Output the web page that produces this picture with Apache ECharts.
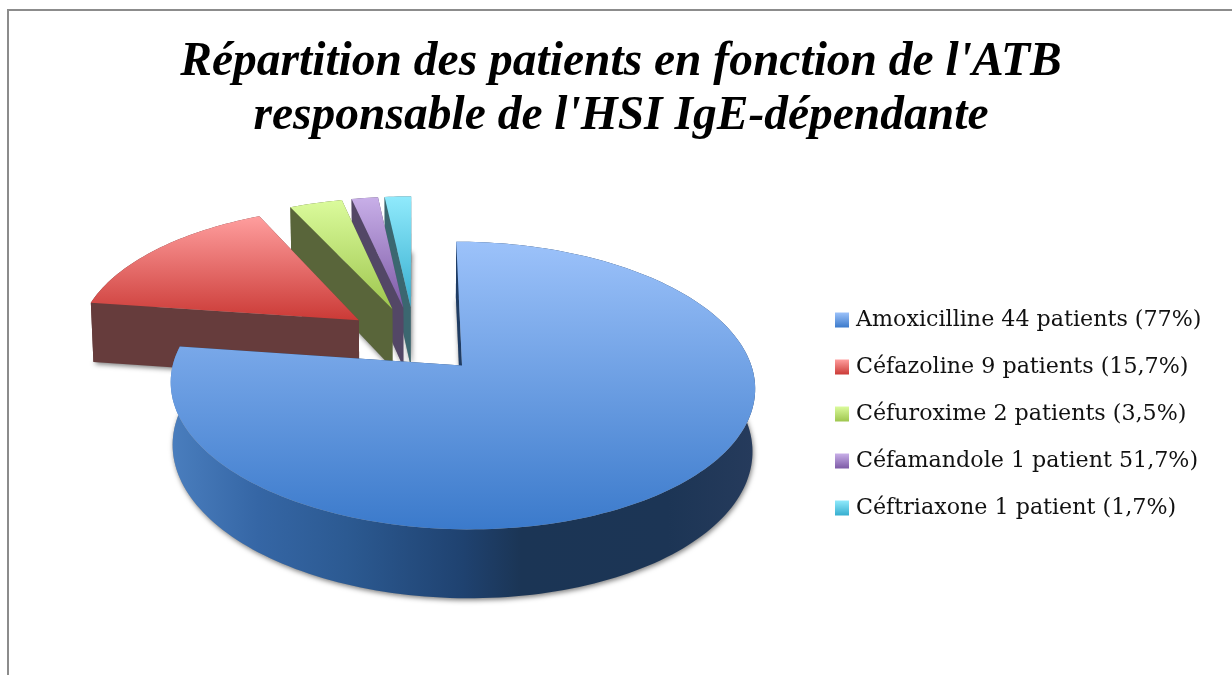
<!DOCTYPE html>
<html>
<head>
<meta charset="utf-8">
<title>Répartition des patients</title>
<style>
html, body { margin: 0; padding: 0; background: #fff; }
#chart { width: 1232px; height: 675px; }
</style>
<script src="https://cdn.jsdelivr.net/npm/echarts@6/dist/echarts.min.js"></script>
</head>
<body>
<div id="chart"></div>
<script>
var titleLines = ["Répartition des patients en fonction de l'ATB", "responsable de l'HSI IgE-dépendante"];
var categories = ['Amoxicilline', 'Céfazoline', 'Céfuroxime', 'Céfamandole', 'Céftriaxone'];
var patients = [44, 9, 2, 1, 1];
var legendLabels = [
    'Amoxicilline 44 patients (77%)',
    'Céfazoline 9 patients (15,7%)',
    'Céfuroxime 2 patients (3,5%)',
    'Céfamandole 1 patient 51,7%)',
    'Céftriaxone 1 patient (1,7%)'
];
var topColors = [['#9CC2FA', '#3B7ACB'], ['#FF9E9E', '#CB3A36'], ['#DBFB9C', '#9EC64E'], ['#C8AFE8', '#7D5AA6'], ['#90EAFC', '#36AECF']];
var sideColors = ['#1F3C63', '#663C3C', '#59653A', '#534766', '#3B6770'];

// perspective of the fake 3D pie
var cx = 414.5, cy = 339.7, rx = 282, ry = 134, k = 0.135, kDepth = 0.1, depth = 60.7, shrink = 0.008, explode = 0.25;

var total = patients.reduce(function (a, b) { return a + b; }, 0);

function project(x, y, z) {
    var w = 1 + k * y;
    return [cx + rx * x * (1 - shrink * z) / w, cy - ry * y / w + depth * z / (1 + kDepth * y)];
}

function sliceShapes(index) {
    var before = 0;
    for (var i = 0; i < index; i++) before += patients[i];
    var a0 = before / total * Math.PI * 2;
    var a1 = (before + patients[index]) / total * Math.PI * 2;
    var mid = (a0 + a1) / 2;
    var ax = explode * Math.sin(mid), ay = explode * Math.cos(mid);
    var steps = Math.max(6, Math.round((a1 - a0) * 40));
    var top = [project(ax, ay, 0)];
    var base = [project(ax, ay, 1)];
    var arcTop = [], arcBottom = [];
    for (var s = 0; s <= steps; s++) {
        var a = a0 + (a1 - a0) * s / steps;
        var x = ax + Math.sin(a), y = ay + Math.cos(a);
        top.push(project(x, y, 0));
        base.push(project(x, y, 1));
        arcTop.push(project(x, y, 0));
        arcBottom.unshift(project(x, y, 1));
    }
    var startX = ax + Math.sin(a0), startY = ay + Math.cos(a0);
    var endX = ax + Math.sin(a1), endY = ay + Math.cos(a1);
    var outerWall = arcTop.concat(arcBottom);
    var startWall = [project(ax, ay, 0), project(startX, startY, 0), project(startX, startY, 1), project(ax, ay, 1)];
    var endWall = [project(ax, ay, 0), project(endX, endY, 0), project(endX, endY, 1), project(ax, ay, 1)];
    var sideFill = index === 0
        ? new echarts.graphic.LinearGradient(0, 0, 1, 0, [
            { offset: 0, color: '#4A7EBE' },
            { offset: 0.15, color: '#3566A5' },
            { offset: 0.3, color: '#2C5A92' },
            { offset: 0.5, color: '#1F4270' },
            { offset: 0.6, color: '#1B3555' },
            { offset: 0.85, color: '#1C3555' },
            { offset: 1, color: '#263B5C' }
        ])
        : sideColors[index];
    return {
        type: 'group',
        children: [
            // the base casts the soft shadow, it only shows where it sticks out under the walls
            { type: 'polygon', shape: { points: base }, style: {
                fill: '#999', shadowBlur: 5, shadowColor: 'rgba(0,0,0,0.5)', shadowOffsetX: 1, shadowOffsetY: 2
            } },
            { type: 'polygon', shape: { points: outerWall }, style: { fill: sideFill } },
            { type: 'polygon', shape: { points: endWall }, style: { fill: sideColors[index] } },
            { type: 'polygon', shape: { points: startWall }, style: { fill: sideColors[index] } },
            { type: 'polygon', shape: { points: top }, style: { fill: new echarts.graphic.LinearGradient(0, 0, 0, 1, [
                { offset: 0, color: topColors[index][0] },
                { offset: 1, color: topColors[index][1] }
            ]) } }
        ]
    };
}

var chart = echarts.init(document.getElementById('chart'));

// one custom series per antibiotic so the legend can list them, painted back to front
var series = categories.map(function (name, i) {
    return {
        type: 'custom',
        name: legendLabels[i],
        coordinateSystem: 'none',
        z: 10 - i,
        itemStyle: { color: new echarts.graphic.LinearGradient(0, 0, 0, 1, [
            { offset: 0, color: topColors[i][0] },
            { offset: 1, color: topColors[i][1] }
        ]) },
        data: [patients[i]],
        renderItem: function () { return sliceShapes(i); }
    };
});

chart.setOption({
    backgroundColor: '#ffffff',
    animation: false,
    title: {
        text: titleLines.join('\n'),
        left: 616, top: 31, textAlign: 'center',
        textStyle: { fontFamily: 'Liberation Serif', fontWeight: 'bold', fontStyle: 'italic', fontSize: 47.5, lineHeight: 54, color: '#000' }
    },
    legend: {
        orient: 'vertical',
        left: 835, top: 309,
        padding: 0,
        itemWidth: 14, itemHeight: 15, itemGap: 25, icon: 'rect',
        data: legendLabels,
        selectedMode: false,
        textStyle: { fontFamily: 'DejaVu Serif', fontSize: 22.2, color: '#111', padding: [0, 0, 0, 2] }
    },
    graphic: [
        { type: 'polyline', shape: { points: [[8, 675], [8, 10], [1232, 10]] }, style: { fill: null, stroke: '#8c8c8c', lineWidth: 2 } }
    ],
    series: series
});
</script>
</body>
</html>
